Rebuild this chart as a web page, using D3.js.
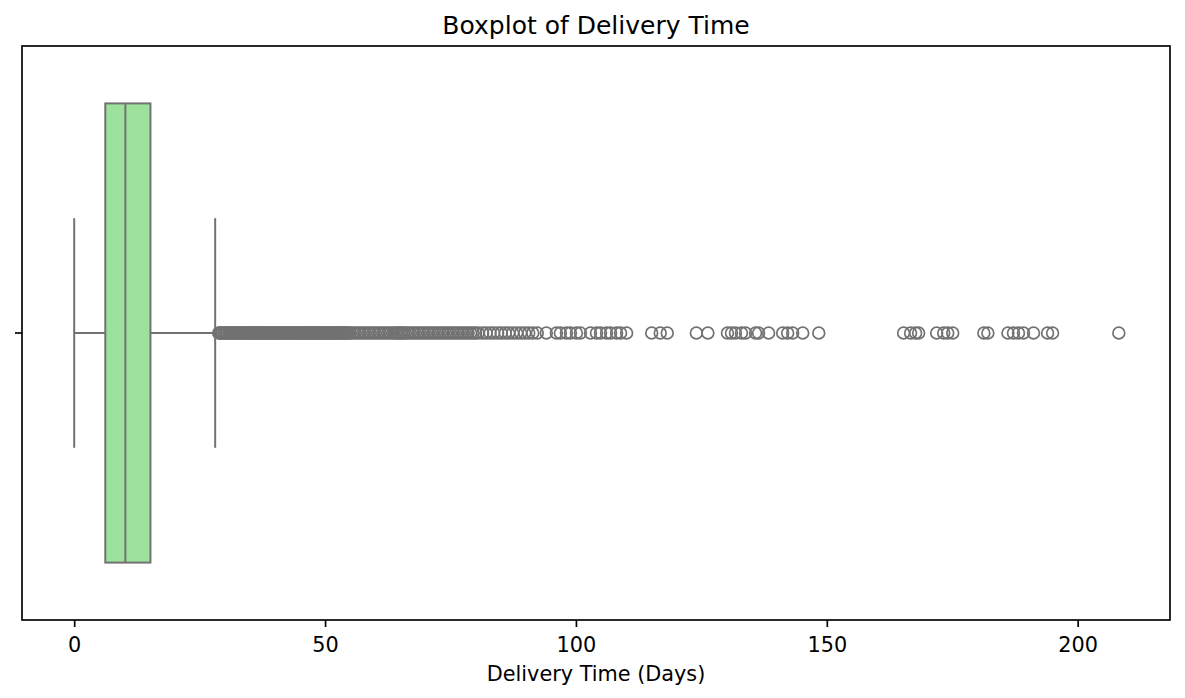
<!DOCTYPE html>
<html>
<head>
<meta charset="utf-8">
<script src="https://cdn.jsdelivr.net/npm/d3@7"></script>
<style>
  body { margin: 0; background: #fff; }
  svg text { font-family: "DejaVu Sans", sans-serif; fill: #000; }
</style>
</head>
<body>
<svg id="chart" width="1185" height="698"></svg>
<script>
// box summary (days)
const category = [''];
const quartiles = [6.2, 10.2, 15.2];   // q1, median, q3
const whiskers = [0, 28.1];
const xTicks = [0, 50, 100, 150, 200];
const xDomain = [-10.4, 218.4];

// fliers, dense part first
const outliersDense = [
  28.8,
  29.0, 29.3, 29.5, 29.8, 30.0, 30.3, 30.5, 30.8, 31.0, 31.3, 31.5, 31.8,
  32.0, 32.3, 32.5, 32.8, 33.0, 33.3, 33.5, 33.8, 34.0, 34.3, 34.5, 34.8,
  35.0, 35.3, 35.5, 35.8, 36.0, 36.3, 36.5, 36.8, 37.0, 37.3, 37.5, 37.8,
  38.0, 38.3, 38.5, 38.8, 39.0, 39.3, 39.5, 39.8, 40.0, 40.3, 40.5, 40.8,
  41.0, 41.3, 41.5, 41.8, 42.0, 42.3, 42.5, 42.8, 43.0, 43.3, 43.5, 43.8,
  44.0, 44.3, 44.5, 44.8, 45.0, 45.3, 45.5, 45.8, 46.0, 46.3, 46.5, 46.8,
  47.0, 47.3, 47.5, 47.8, 48.0, 48.3, 48.5, 48.8, 49.0, 49.3, 49.5, 49.8,
  50.0, 50.3, 50.5, 50.8, 51.0, 51.3, 51.5, 51.8, 52.0, 52.3, 52.5, 52.8,
  53.0, 53.3, 53.5, 53.8, 54.0, 54.3, 54.5, 54.8, 55.0
];
const outliersMid = [
  55.5, 56.0, 56.5, 57.0, 57.5, 58.0, 58.5, 59.0, 59.5, 60.0, 60.5, 61.0,
  61.5, 62.0, 62.5, 63.0, 63.5, 64.0, 64.3, 64.6, 65.0, 65.3, 65.6, 66.0,
  66.5, 67.0, 67.5, 68.0, 68.5, 69.0, 69.5, 70.0, 70.5, 71.0, 71.5, 72.0,
  72.5, 73.0, 73.5, 74.0, 74.5, 75.0, 75.5, 76.0, 76.5, 77.0, 77.5, 78.0,
  78.5, 79.0, 79.5, 80.0, 80.5,
  81.4, 82.1, 82.9, 83.6, 84.4, 85.1, 85.9, 86.6, 87.4, 88.2, 89.0, 89.8,
  90.6, 91.4, 92.3
];
const outliersSparse = [
  94.1, 96.1, 96.9, 98.1, 98.9, 100.1, 100.9, 102.9, 104.1, 104.9, 106.1,
  106.9, 108.1, 108.9, 110.1,
  115.1, 116.8, 118.2, 124.0, 126.3, 130.2, 131.0, 131.8, 133.0, 133.8,
  135.8, 136.4, 138.4, 141.2, 142.2, 143.2, 145.2, 148.4,
  165.3, 166.7, 167.7, 168.3, 171.9, 173.3, 174.1, 175.1, 181.3, 182.1,
  186.1, 187.2, 188.2, 189.2, 191.2, 194.0, 195.0, 208.2
];
const outliers = outliersDense.concat(outliersMid, outliersSparse);

const boxFill = '#9ce29c';
const lineGray = '#727272';

const svg = d3.select('#chart');
const plot = { left: 22, right: 1170, top: 46, bottom: 620 };

const x = d3.scaleLinear().domain(xDomain).range([plot.left, plot.right]);
const y = d3.scaleBand().domain(category).range([plot.top, plot.bottom]);

const cy = y('') + y.bandwidth() / 2;
const boxH = y.bandwidth() * 0.8;
const capH = boxH / 2;

const g = svg.append('g');

// whiskers
g.append('line')
    .attr('x1', x(whiskers[0])).attr('x2', x(quartiles[0]))
    .attr('y1', cy).attr('y2', cy)
    .attr('stroke', lineGray).attr('stroke-width', 2);
g.append('line')
    .attr('x1', x(quartiles[2])).attr('x2', x(whiskers[1]))
    .attr('y1', cy).attr('y2', cy)
    .attr('stroke', lineGray).attr('stroke-width', 2);
g.selectAll('.cap')
    .data(whiskers)
    .enter().append('line')
    .attr('class', 'cap')
    .attr('x1', d => x(d)).attr('x2', d => x(d))
    .attr('y1', cy - capH / 2).attr('y2', cy + capH / 2)
    .attr('stroke', lineGray).attr('stroke-width', 2);

// box + median
g.append('rect')
    .attr('x', x(quartiles[0]))
    .attr('y', cy - boxH / 2)
    .attr('width', x(quartiles[2]) - x(quartiles[0]))
    .attr('height', boxH)
    .attr('fill', boxFill)
    .attr('stroke', lineGray).attr('stroke-width', 2);
g.append('line')
    .attr('x1', x(quartiles[1])).attr('x2', x(quartiles[1]))
    .attr('y1', cy - boxH / 2).attr('y2', cy + boxH / 2)
    .attr('stroke', lineGray).attr('stroke-width', 2);

// fliers
g.selectAll('.flier')
    .data(outliers)
    .enter().append('circle')
    .attr('class', 'flier')
    .attr('cx', d => x(d))
    .attr('cy', cy)
    .attr('r', 5.9)
    .attr('fill', 'none')
    .attr('stroke', lineGray)
    .attr('stroke-width', 1.7);

// axes
const xAxis = svg.append('g')
    .attr('transform', `translate(0,${plot.bottom})`)
    .call(d3.axisBottom(x).tickValues(xTicks).tickSize(7).tickPadding(10));
const yAxis = svg.append('g')
    .attr('transform', `translate(${plot.left},0)`)
    .call(d3.axisLeft(y).tickSize(7).tickFormat(''));

[xAxis, yAxis].forEach(a => {
    a.select('.domain').remove();
    a.selectAll('.tick line').attr('stroke', '#000').attr('stroke-width', 1.67);
    a.selectAll('.tick text')
        .attr('font-size', '20.8px')
        .attr('font-family', 'DejaVu Sans')
        .attr('fill', '#000');
});

// frame
svg.append('rect')
    .attr('x', plot.left).attr('y', plot.top)
    .attr('width', plot.right - plot.left)
    .attr('height', plot.bottom - plot.top)
    .attr('fill', 'none')
    .attr('stroke', '#000')
    .attr('stroke-width', 1.67);

// title + label
svg.append('text')
    .attr('x', (plot.left + plot.right) / 2).attr('y', 34)
    .attr('text-anchor', 'middle')
    .attr('font-size', '25px')
    .text('Boxplot of Delivery Time');
svg.append('text')
    .attr('x', (plot.left + plot.right) / 2).attr('y', 680.5)
    .attr('text-anchor', 'middle')
    .attr('font-size', '20.8px')
    .text('Delivery Time (Days)');
</script>
</body>
</html>
